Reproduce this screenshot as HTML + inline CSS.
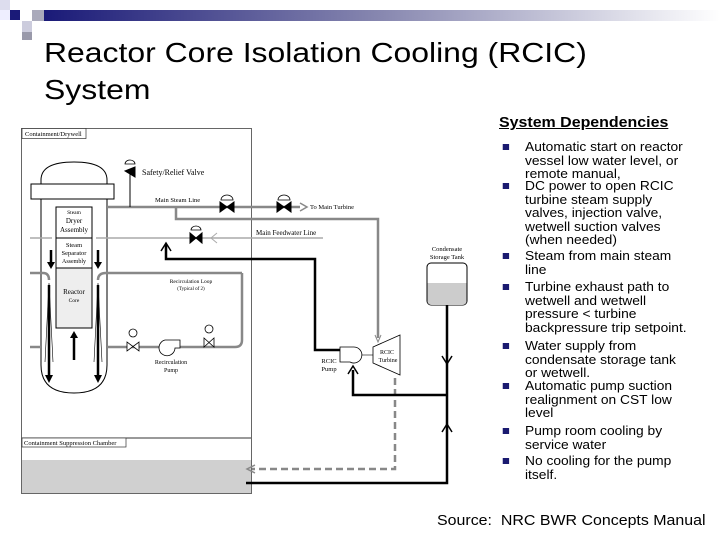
<!DOCTYPE html>
<html><head><meta charset="utf-8"><style>
body{margin:0;width:720px;height:540px;background:#fff;position:relative;overflow:hidden;font-family:"Liberation Sans",Arial,sans-serif}
.t{position:absolute;left:44px;top:34px;font-size:28px;line-height:37px;color:#000;transform:scaleX(1.14);transform-origin:0 0;white-space:nowrap}
.h{position:absolute;left:499px;top:115px;font-size:14.5px;font-weight:bold;text-decoration:underline;transform:scaleX(1.1);transform-origin:0 0;white-space:nowrap}
.b{position:absolute;left:525px;font-size:13px;line-height:13.6px;white-space:nowrap;transform:scaleX(1.06);transform-origin:0 0}
.b:before{content:"";position:absolute;left:-21px;top:4px;width:6px;height:6px;background:#1a1a70}
.s{position:absolute;left:437px;top:513px;font-size:14.5px;transform:scaleX(1.1);transform-origin:0 0;white-space:nowrap}
</style></head><body>
<svg width="720" height="540" style="position:absolute;left:0;top:0" font-family="Liberation Serif,serif">
<defs><linearGradient id="g" x1="0" x2="1"><stop offset="0" stop-color="#1a1a78"/><stop offset="0.5" stop-color="#8888b0"/><stop offset="1" stop-color="#fff"/></linearGradient></defs>
<rect x="44" y="10" width="676" height="11" fill="url(#g)"/>
<rect x="0" y="0" width="10" height="10" fill="#dde"/>
<rect x="10" y="10" width="10" height="10" fill="#1a1a78"/>
<rect x="32" y="10" width="12" height="11" fill="#aab"/>
<rect x="22" y="21" width="10" height="11" fill="#ccd"/>
<rect x="22" y="32" width="10" height="8" fill="#99a"/>
<rect x="0" y="10" width="10" height="10" fill="#eef"/>
<rect x="21.5" y="128.5" width="230" height="365" fill="none" stroke="#666"/>
<rect x="22" y="460" width="229" height="33" fill="#d0d0d0"/>
<line x1="22" y1="438" x2="251" y2="438" stroke="#333"/>
<rect x="22" y="128.5" width="64" height="10" fill="#fff" stroke="#333" stroke-width=".7"/>
<text x="25" y="136" font-size="6.5">Containment/Drywell</text>
<rect x="22" y="438" width="104" height="9" fill="#fff" stroke="#333" stroke-width=".7"/>
<text x="24" y="445" font-size="6.5">Containment Suppression Chamber</text>
<path d="M41 184 L41 180 Q41 162 74 162 Q107 162 107 180 L107 184 M41 199 L41 365 Q41 393 74 393 Q107 393 107 365 L107 199" fill="none" stroke="#000"/>
<rect x="31" y="184" width="83" height="15" fill="#fff" stroke="#000"/>
<rect x="56" y="207" width="36" height="121" fill="#fff" stroke="#000"/>
<rect x="56" y="268" width="36" height="60" fill="#eee" stroke="#000"/>
<line x1="56" y1="238" x2="92" y2="238" stroke="#000"/>
<text font-size="5.5" text-anchor="middle"><tspan x="74" y="214">Steam</tspan><tspan x="74" y="223" font-size="7">Dryer</tspan><tspan x="74" y="232" font-size="7">Assembly</tspan><tspan x="74" y="247" font-size="6.5">Steam</tspan><tspan x="74" y="255" font-size="6.5">Separator</tspan><tspan x="74" y="263" font-size="6">Assembly</tspan><tspan x="74" y="294" font-size="7">Reactor</tspan><tspan x="74" y="302" font-size="5.5">Core</tspan></text>
<g stroke="#000" stroke-width="2.5"><line x1="51" y1="250" x2="51" y2="262"/><line x1="98" y1="250" x2="98" y2="262"/><line x1="74" y1="338" x2="74" y2="360"/><line x1="49" y1="285" x2="49" y2="375"/><line x1="98" y1="285" x2="98" y2="375"/></g>
<g fill="#000"><path d="M47 262h8l-4 7z"/><path d="M94 262h8l-4 7z"/><path d="M70 338h8l-4-7z"/><path d="M45 375h8l-4 8z"/><path d="M94 375h8l-4 8z"/></g>
<g fill="none" stroke="#000" stroke-width=".6"><path d="M49 283 L45 362 M49 283 L53 362"/><path d="M98 283 L94 362 M98 283 L102 362"/></g>
<g stroke="#888" stroke-width="2.5" fill="none">
<path d="M107 207 H300"/>
<path d="M176 207 V219 H378 V338"/>
<path d="M30 273 H43 Q49 273 49 280"/><path d="M242 273 H106 Q98 273 98 280"/>
<path d="M242 273 V340 Q242 347 235 347 H107"/>
<path d="M30 347 H41"/>
<path d="M395 378 V469 H252" stroke-dasharray="7,4"/>
</g>
<g stroke="#aaa" stroke-width="1.5"><line x1="30" y1="238" x2="52" y2="238"/><line x1="96" y1="238" x2="323" y2="238"/></g>
<path d="M300 203 L307 207 L300 211" fill="none" stroke="#888" stroke-width="1.5"/>
<path d="M217 233 L211 238 L217 243" fill="none" stroke="#aaa"/>
<path d="M255 465 L247 469 L255 473" fill="none" stroke="#888" stroke-width="1.5"/>
<path d="M375 335 L378 342 L381 335" fill="none" stroke="#888"/>
<text x="310" y="209" font-size="6.5">To Main Turbine</text>
<text x="155" y="202" font-size="6.5">Main Steam Line</text>
<text x="256" y="235" font-size="7">Main Feedwater Line</text>
<text x="142" y="175" font-size="8">Safety/Relief Valve</text>
<text x="191" y="283" font-size="5.5" text-anchor="middle">Recirculation Loop</text><text x="191" y="290" font-size="5" text-anchor="middle">(Typical of 2)</text>
<text x="171" y="364" font-size="6" text-anchor="middle">Recirculation</text><text x="171" y="372" font-size="6" text-anchor="middle">Pump</text>
<g fill="#000" stroke="#000">
<path d="M220 202v10l7-5zM234 202v10l-7-5z"/><path d="M277 202v10l7-5zM291 202v10l-7-5z"/>
<path d="M190 233v10l6-5zM202 233v10l-6-5z"/>
<path d="M125 171l10 6v-10z"/><path d="M130 174v10"/>
</g>
<g fill="#fff" stroke="#000" stroke-width=".8">
<path d="M221 200a6 5 0 0 1 12 0z"/><path d="M278 200a6 5 0 0 1 12 0z"/><path d="M191 230a5 4 0 0 1 10 0z"/><path d="M125 164a5 4 0 0 1 10 0z"/>
<path d="M127 342v9l6-4.5zM139 342v9l-6-4.5z"/><circle cx="133" cy="333" r="4"/>
<path d="M204 338v9l5-4.5zM214 338v9l-5-4.5z"/><circle cx="209" cy="329" r="4"/>
<path d="M165 340h15v8h-5a8 8 0 1 1-10-8z"/>
</g>
<line x1="130" y1="184" x2="130" y2="207" stroke="#000"/>
<g stroke="#000" fill="none" stroke-width="2.5">
<path d="M166 244 V259 H315 V350 H340"/>
<path d="M447 305 V483 H246"/>
<path d="M447 395 H353 V370"/>
</g>
<g fill="none" stroke="#000" stroke-width="1.5"><path d="M161 251 L166 243 L171 251"/><path d="M348 374 L353 366 L358 374"/><path d="M442 356 L447 364 L452 356"/><path d="M442 432 L447 424 L452 432"/></g>
<path d="M340 347h14a8 8 0 1 1-4 15h-10z" fill="#fff" stroke="#000" stroke-width=".8"/>
<line x1="362" y1="355" x2="373" y2="355" stroke="#000" stroke-width=".6"/>
<path d="M373 347 L400 335 L400 375 L373 363 z" fill="#fff" stroke="#000" stroke-width=".8"/>
<text x="387" y="354" font-size="6" text-anchor="middle">RCIC</text><text x="388" y="362" font-size="6" text-anchor="middle">Turbine</text>
<text x="329" y="363" font-size="6.5" text-anchor="middle">RCIC</text><text x="329" y="371" font-size="6.5" text-anchor="middle">Pump</text>
<rect x="427" y="263" width="40" height="42" rx="4" fill="#fff" stroke="#000"/>
<path d="M427.5 283h39v18a4 4 0 0 1-4 4h-31a4 4 0 0 1-4-4z" fill="#ccc"/>
<text x="447" y="251" font-size="6.5" text-anchor="middle">Condensate</text><text x="447" y="259" font-size="6.5" text-anchor="middle">Storage Tank</text>
</svg>
<div class="t">Reactor Core Isolation Cooling (RCIC)<br>System</div>
<div class="h">System Dependencies</div>
<div class="b" style="top:140px">Automatic start on reactor<br>vessel low water level, or<br>remote manual,</div>
<div class="b" style="top:179px">DC power to open RCIC<br>turbine steam supply<br>valves, injection valve,<br>wetwell suction valves<br>(when needed)</div>
<div class="b" style="top:249px">Steam from main steam<br>line</div>
<div class="b" style="top:280px">Turbine exhaust path to<br>wetwell and wetwell<br>pressure &lt; turbine<br>backpressure trip setpoint.</div>
<div class="b" style="top:339px">Water supply from<br>condensate storage tank<br>or wetwell.</div>
<div class="b" style="top:379px">Automatic pump suction<br>realignment on CST low<br>level</div>
<div class="b" style="top:424px">Pump room cooling by<br>service water</div>
<div class="b" style="top:454px">No cooling for the pump<br>itself.</div>
<div class="s">Source:&nbsp; NRC BWR Concepts Manual</div>
</body></html>
